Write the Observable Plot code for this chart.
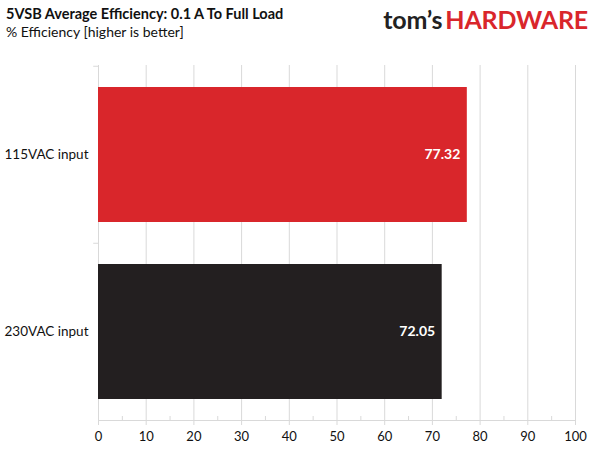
<!DOCTYPE html>
<html><head><meta charset="utf-8">
<script src="https://cdn.jsdelivr.net/npm/d3@7"></script>
<script src="https://cdn.jsdelivr.net/npm/@observablehq/plot@0.6"></script>
<style>
body{margin:0;background:#fff;font-family:Lato,"Open Sans",sans-serif;}
#wrap{width:600px;height:450px;position:relative;overflow:hidden;}
#head{height:50px;position:relative;}
#title{position:absolute;left:6px;top:5px;font-size:14.5px;font-weight:bold;color:#111;}
#sub{position:absolute;left:6px;top:23px;font-size:14px;color:#111;}
#logo{position:absolute;right:12px;top:4px;font-size:25px;font-weight:bold;letter-spacing:-0.2px;}
#logo .t{color:#222;margin-right:3px;}#logo .h{color:#d9262b;}
</style></head>
<body><div id="wrap"><div id="head">
<div id="title">5VSB Average Efficiency: 0.1 A To Full Load</div>
<div id="sub">% Efficiency [higher is better]</div>
<div id="logo"><span class="t">tom’s</span><span class="h">HARDWARE</span></div>
</div><div id="chart"></div></div>
<script>
const categories = ["115VAC input", "230VAC input"];
const values = [77.32, 72.05];
const colors = ["#d9262b", "#231f20"];
const xTicks = [0,10,20,30,40,50,60,70,80,90,100];
const minorTicks = [5,15,25,35,45,55,65,75,85,95];

const data = categories.map((c,i)=>({cat:c, value:values[i], color:colors[i]}));
const chart = Plot.plot({
  width: 600, height: 400,
  marginLeft: 98, marginRight: 25, marginTop: 15, marginBottom: 30,
  style: {fontFamily: "Lato, 'Open Sans', sans-serif", fontSize: "13px", color: "#111", background: "#fff"},
  x: {domain: [0,100], ticks: xTicks, label: null},
  y: {domain: categories, paddingInner: 0.24, paddingOuter: 0.12, label: null},
  marks: [
    Plot.gridX(xTicks, {stroke: "#d9d9d9", strokeOpacity: 1}),
    Plot.axisX(xTicks, {tickSize: 5, stroke: "#d9d9d9", tickPadding: 6, fontSize: 13, fill: "#111", label: null}),
    Plot.axisX(minorTicks, {tickSize: -4, stroke: "#d9d9d9", text: null, label: null}),
    Plot.ruleY(categories, {x1: -1, x2: 0, dy: -88.75, stroke: "#d9d9d9"}),
    Plot.frame({anchor: "bottom", stroke: "#d9d9d9"}),
    Plot.axisY({tickSize: 0, tickPadding: 10, fontSize: 13.5, fill: "#111", label: null}),
    Plot.barX(data, {y: "cat", x: "value", fill: "color"}),
    Plot.text(data, {y: "cat", x: "value", text: d => d.value.toFixed(2), textAnchor: "end", dx: -7, fill: "#fff", fontWeight: "bold", fontSize: 14})
  ]
});
document.getElementById("chart").appendChild(chart);
</script></body></html>
